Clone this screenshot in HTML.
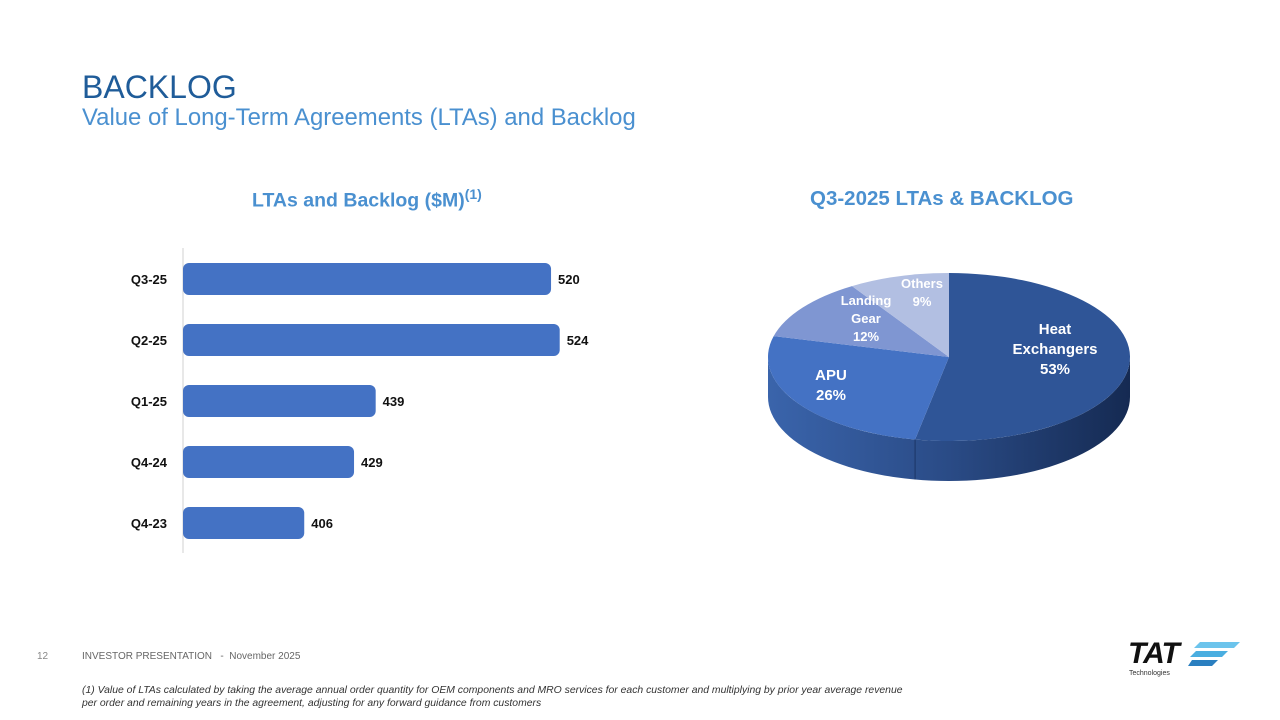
<!DOCTYPE html>
<html><head><meta charset="utf-8">
<style>
body{margin:0;width:1280px;height:720px;background:#fff;font-family:"Liberation Sans",sans-serif;position:relative;overflow:hidden}
.abs{position:absolute}
</style></head><body>
<div class="abs" style="left:82px;top:69px;font-size:32px;color:#1f5c99">BACKLOG</div>
<div class="abs" style="left:82px;top:104px;font-size:23.9px;color:#4a90d0">Value of Long-Term Agreements (LTAs) and Backlog</div>
<div class="abs" style="left:252px;top:186px;font-size:19.5px;font-weight:bold;color:#4a90d0">LTAs and Backlog ($M)<sup style="font-size:14px">(1)</sup></div>
<div class="abs" style="left:810px;top:187px;font-size:20.5px;font-weight:bold;color:#4a90d0">Q3-2025 LTAs &amp; BACKLOG</div>

<svg class="abs" style="left:0;top:0" width="1280" height="720" id="chart">
<defs>
<linearGradient id="side" x1="0" x2="1"><stop offset="0" stop-color="#3a64ab"/><stop offset="0.5" stop-color="#2a4b86"/><stop offset="1" stop-color="#152a52"/></linearGradient>
</defs>
</svg>

<div class="abs" style="left:37px;top:651px;font-size:10px;color:#888">12</div>
<div class="abs" style="left:82px;top:651px;font-size:10px;color:#666">INVESTOR PRESENTATION &nbsp; - &nbsp;November 2025</div>
<div class="abs" style="left:82px;top:684px;font-size:10.4px;font-style:italic;color:#333;line-height:13px;width:832px">(1) Value of LTAs calculated by taking the average annual order quantity for OEM components and MRO services for each customer and multiplying by prior year average revenue per order and remaining years in the agreement, adjusting for any forward guidance from customers</div>
<div class="abs" style="left:1128px;top:638px;width:115px;height:42px">
<div style="font-size:30px;font-weight:900;font-style:italic;color:#111;letter-spacing:-1px;line-height:32px">TAT</div>
<svg class="abs" style="left:60px;top:4px" width="52" height="24"><polygon points="12,0 52,0 46,6 6,6" fill="#6cc4ec"/><polygon points="8,9 40,9 34,15 2,15" fill="#4aaee0"/><polygon points="4,18 30,18 24,24 0,24" fill="#2a7fc0"/></svg>
<div class="abs" style="left:1px;top:32px;font-size:7px;color:#333">Technologies</div>
</div>

<script>
const categories=["Q3-25","Q2-25","Q1-25","Q4-24","Q4-23"];
const values=[520,524,439,429,406];
const pieLabels=[["Heat","Exchangers","53%"],["APU","26%"],["Landing","Gear","12%"],["Others","9%"]];
const pieValues=[53,26,12,9];

const svg=document.getElementById('chart');
const NS='http://www.w3.org/2000/svg';
function mk(t,a){const e=document.createElementNS(NS,t);for(const k in a)e.setAttribute(k,a[k]);svg.appendChild(e);return e;}
const x0=183,vMin=350,pxPer=2.165;
const xs=v=>x0+(v-vMin)*pxPer;
const ys=i=>279+i*61;
const axis=mk('line',{x1:183,y1:248,x2:183,y2:553,stroke:'#d0d0d0','stroke-width':1});


categories.forEach((c,i)=>{
  const y=ys(i);
  const r=mk('rect',{x:x0,y:y-16,width:xs(values[i])-x0,height:32,rx:6,fill:'#4472c4'});
  
  
  const t=mk('text',{x:167,y:y+5,'text-anchor':'end','font-size':13,'font-weight':'bold',fill:'#111'});
  t.textContent=c;
  
  
  const v=mk('text',{x:xs(values[i])+7,y:y+5,'font-size':13,'font-weight':'bold',fill:'#111'});
  v.textContent=values[i];
  
  
});
const cx=949,cy=357,rx=181,ry=84,depth=40;
const total=pieValues.reduce((a,b)=>a+b,0);
const colors=['#2f5597','#4472c4','#7f96d2','#b2bfe2'];
const pt=(th,dy)=>[cx+rx*Math.sin(th),cy-ry*Math.cos(th)+(dy||0)];
let d=`M${cx-rx},${cy} A${rx},${ry} 0 0 0 ${cx+rx},${cy} L${cx+rx},${cy+depth} A${rx},${ry} 0 0 1 ${cx-rx},${cy+depth} Z`;
const side=mk('path',{d,fill:'url(#side)'});


let acc=0;
const labelPos=[[1055,334],[831,380],[866,305],[922,288]];
pieValues.forEach((v,i)=>{
  const a0=acc/total*2*Math.PI; acc+=v; const a1=acc/total*2*Math.PI;
  const p0=pt(a0),p1=pt(a1);
  const large=(a1-a0)>Math.PI?1:0;
  const s=mk('path',{d:`M${cx},${cy} L${p0[0]},${p0[1]} A${rx},${ry} 0 ${large} 1 ${p1[0]},${p1[1]} Z`,fill:colors[i]});
  
  
});
pieValues.forEach((v,i)=>{
  const lines=pieLabels[i];
  const [lx,ly]=labelPos[i];
  const fs=i<2?15:13;
  lines.forEach((ln,j)=>{
    const t=mk('text',{x:lx,y:ly+j*(fs+5),'text-anchor':'middle','font-size':fs,'font-weight':'bold',fill:'#fff'});
    t.textContent=ln;
    
    
  });
});
const pe=pt(pieValues[0]/total*2*Math.PI);
mk('line',{x1:pe[0],y1:pe[1],x2:pe[0],y2:pe[1]+depth,stroke:'#1c3566','stroke-width':1});
</script>
</body></html>
